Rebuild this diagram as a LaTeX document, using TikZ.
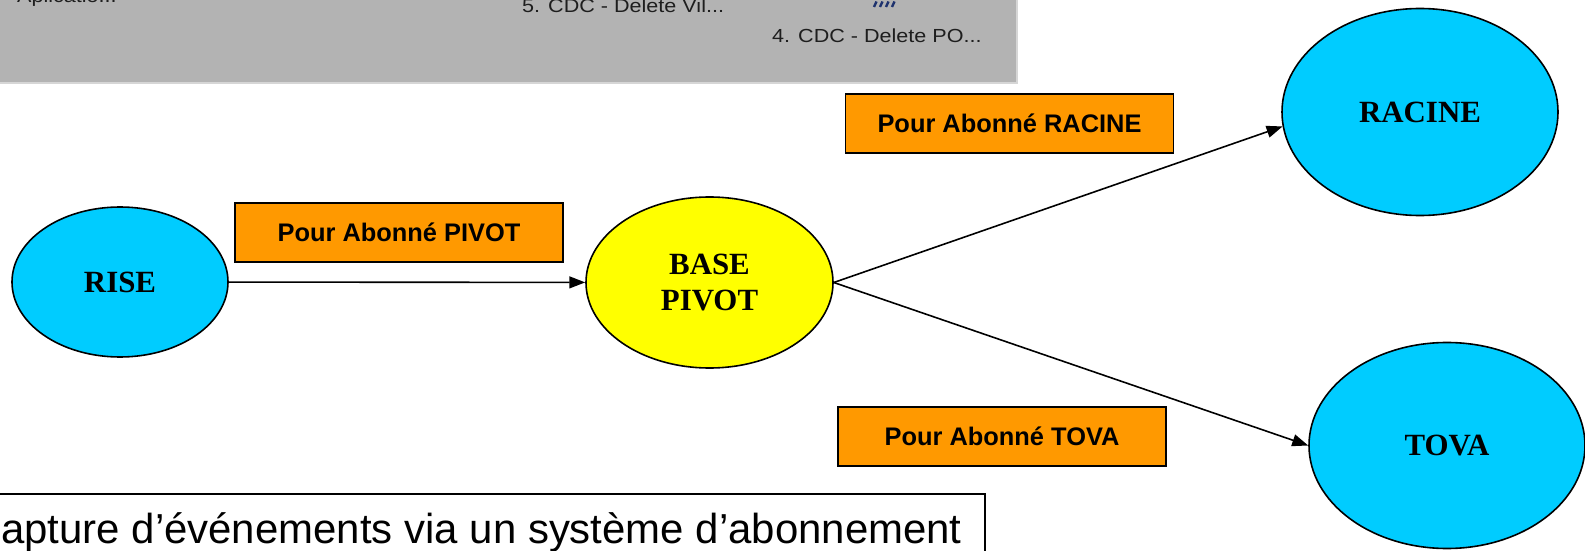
\documentclass[tikz,border=0pt]{standalone}
\usepackage{fontspec}
\setmainfont{Liberation Serif}
\newfontfamily\arialfont{Liberation Sans}
\usetikzlibrary{shapes.geometric,arrows.meta}
\definecolor{nodecyan}{RGB}{0,204,255}
\definecolor{nodeyellow}{RGB}{255,255,0}
\definecolor{labelorange}{RGB}{255,153,0}
\definecolor{shotgray}{RGB}{179,179,179}
\definecolor{shotedge}{RGB}{214,214,214}
\definecolor{shottext}{RGB}{30,30,30}
\definecolor{shotblue}{RGB}{30,50,110}
\tikzset{
  bubble/.style={ellipse, draw=black, line width=1.6pt, inner sep=0pt,
    font=\fontsize{31}{37}\selectfont\bfseries, text=black, align=center},
  tag/.style={rectangle, draw=black, line width=1.8pt, fill=labelorange,
    minimum width=328bp, minimum height=59bp, inner sep=0pt,
    font=\arialfont\fontsize{25.5}{30}\selectfont\bfseries},
  flow/.style={line width=1.6pt, -{Triangle[length=16pt,width=12pt]}},
  shotlabel/.style={anchor=base west, inner sep=0pt, text=shottext,
    font=\arialfont\fontsize{19}{22}\selectfont},
}
\begin{document}
\begin{tikzpicture}[x=1bp,y=-1bp]
\useasboundingbox (0,0) rectangle (1585,551);
\clip (0,0) rectangle (1585,551);
\fill[white] (0,0) rectangle (1585,551);
% screenshot strip
\fill[shotedge] (0,0) rectangle (1018,84);
\fill[shotgray] (0,0) rectangle (1016,82);
\node[shotlabel] (apl) at (17,3) {\scalebox{1.14}[1]{Aplicatio...}};
\node[shotlabel] (cdc5) at (522,13) {\scalebox{1.14}[1]{5. CDC - Delete Vil...}};
\node[shotlabel] (cdc4) at (772,43) {\scalebox{1.14}[1]{4. CDC - Delete PO...}};
\foreach \i in {0,1,2,3} {
  \draw[shotblue, line width=2.4pt] ({874+6*\i},7) -- ({876.5+6*\i},1.5);
}
% nodes
\node[bubble, fill=nodecyan, minimum width=216bp, minimum height=150bp] (rise) at (120,282) {RISE};
\node[bubble, fill=nodeyellow, minimum width=247bp, minimum height=171bp] (base) at (709.5,282.5) {BASE\\PIVOT};
\node[bubble, fill=nodecyan, minimum width=276bp, minimum height=207bp] (racine) at (1420,112) {RACINE};
\node[bubble, fill=nodecyan, minimum width=276bp, minimum height=206bp] (tova) at (1447,445.5) {TOVA};
% labels
\node[tag] (tpivot) at (399,232.5) {Pour Abonné PIVOT};
\node[tag] (tracine) at (1009.5,123.5) {Pour Abonné RACINE};
\node[tag] (ttova) at (1002,436.5) {Pour Abonné TOVA};
% connectors
\draw[flow] (rise) -- (base);
\draw[flow] (base.east) -- (racine.186);
\draw[flow] (base.east) -- (tova.west);
% caption box
\draw[line width=1.5pt] (-5,494) rectangle (985,570);
\node[anchor=base west, inner sep=0pt, font=\arialfont\fontsize{42.1}{48}\selectfont] (caption) at (1,543) {apture d’événements via un système d’abonnement};
\end{tikzpicture}
\end{document}
